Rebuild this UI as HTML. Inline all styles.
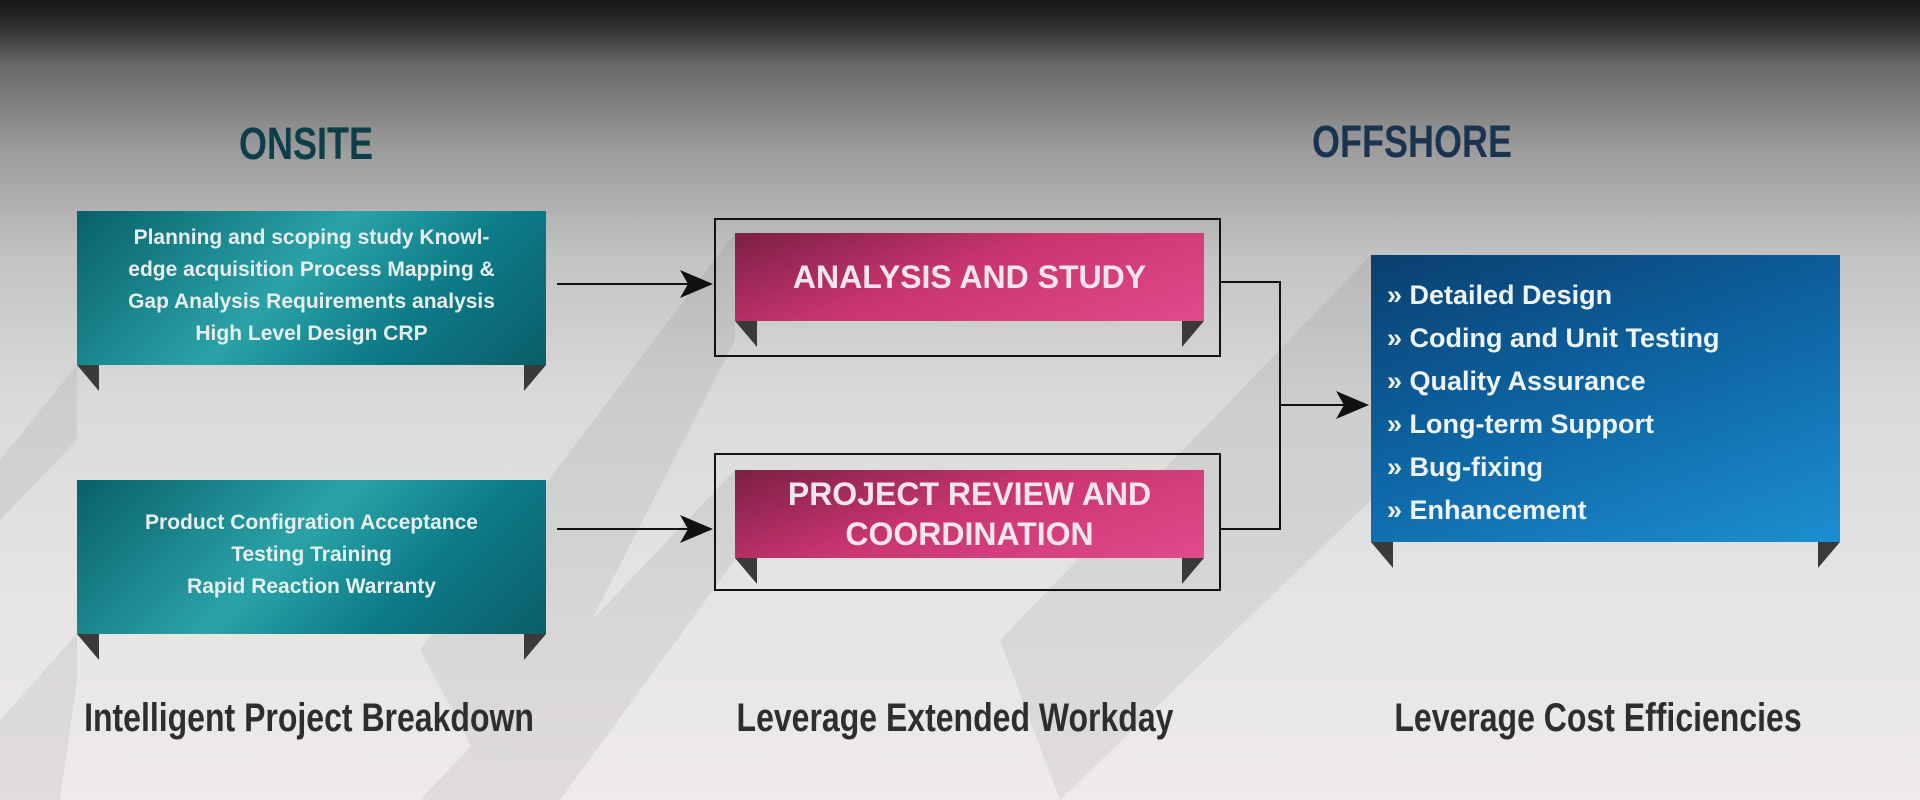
<!DOCTYPE html>
<html><head><meta charset="utf-8"><style>
html,body{margin:0;padding:0}
body{width:1920px;height:800px;position:relative;overflow:hidden;font-family:"Liberation Sans",sans-serif;
background:linear-gradient(180deg,#161616 0px,#2e2e2e 25px,#686868 65px,#9c9c9c 150px,#c4c4c4 260px,#dadada 400px,#e6e4e4 600px,#eeebea 800px);}
.abs{position:absolute}
.h{font-weight:bold;font-size:45px;transform:scaleX(.8);transform-origin:center;text-align:center;width:400px}
.teal{background:linear-gradient(135deg,#08606a 0%,#2aa3a8 45%,#0d7c88 70%,#0a5e6a 100%);color:#e8eeee;font-weight:bold;font-size:21px;line-height:32px;text-align:center;box-sizing:border-box}
.pink{background:linear-gradient(160deg,#7a1f45 0%,#c8356e 45%,#e24a8c 100%);color:#f2e6ec;font-weight:bold;font-size:32px;text-align:center;display:flex;align-items:center;justify-content:center;line-height:40px}
.blue{background:linear-gradient(160deg,#0a3f6e 0%,#0d62a0 45%,#1c8fd0 100%);color:#eef4f8;font-weight:bold;font-size:27px;box-sizing:border-box;padding-left:16px;padding-top:19px;line-height:43px}
.tl{position:absolute;width:0;height:0;border-top:26px solid #3a3a3a;border-left:22px solid transparent}
.tr{position:absolute;width:0;height:0;border-top:26px solid #3a3a3a;border-right:22px solid transparent}
.ob{position:absolute;border:2px solid #111;box-sizing:border-box}
.lab{position:absolute;font-weight:bold;font-size:40px;color:#2e2e2e;width:700px;text-align:center;transform:scaleX(.8);transform-origin:center}
</style></head><body>
<svg class="abs" style="left:0;top:0" width="1920" height="800">
<g fill="#000" opacity="0.06">
<polygon points="77,365 0,460 0,520 77,440"/>
<polygon points="77,634 0,720 0,800 60,800 77,680"/>
<polygon points="735,233 420,650 500,800 735,340"/>
<polygon points="735,470 420,800 560,800 735,560"/>
<polygon points="1371,255 1000,640 1060,800 1371,500"/>
</g>
</svg>
<div class="abs h" style="left:106px;top:118px;color:#0e3e48">ONSITE</div>
<div class="abs h" style="left:1212px;top:116px;color:#1a3450">OFFSHORE</div>

<div class="abs teal" style="left:77px;top:211px;width:469px;height:154px;padding-top:11px">Planning and scoping study Knowl-<br>edge acquisition Process Mapping &amp;<br>Gap Analysis Requirements analysis<br>High Level Design CRP</div>
<div class="tl" style="left:77px;top:365px"></div>
<div class="tr" style="left:524px;top:365px"></div>

<div class="abs teal" style="left:77px;top:480px;width:469px;height:154px;padding-top:27px">Product Configration Acceptance<br>Testing Training<br>Rapid Reaction Warranty</div>
<div class="tl" style="left:77px;top:634px"></div>
<div class="tr" style="left:524px;top:634px"></div>

<div class="ob" style="left:714px;top:218px;width:507px;height:139px"></div>
<div class="abs pink" style="left:735px;top:233px;width:469px;height:88px">ANALYSIS AND STUDY</div>
<div class="tl" style="left:735px;top:321px"></div>
<div class="tr" style="left:1182px;top:321px"></div>

<div class="ob" style="left:714px;top:453px;width:507px;height:138px"></div>
<div class="abs pink" style="left:735px;top:470px;width:469px;height:88px">PROJECT REVIEW AND<br>COORDINATION</div>
<div class="tl" style="left:735px;top:558px"></div>
<div class="tr" style="left:1182px;top:558px"></div>

<div class="abs blue" style="left:1371px;top:255px;width:469px;height:287px">» Detailed Design<br>» Coding and Unit Testing<br>» Quality Assurance<br>» Long-term Support<br>» Bug-fixing<br>» Enhancement</div>
<div class="tl" style="left:1371px;top:542px"></div>
<div class="tr" style="left:1818px;top:542px"></div>

<svg class="abs" style="left:0;top:0" width="1920" height="800">
<g stroke="#111" stroke-width="2" fill="none">
<line x1="557" y1="284" x2="690" y2="284"/>
<line x1="557" y1="529" x2="690" y2="529"/>
<polyline points="1221,282 1280,282 1280,529 1221,529"/>
<line x1="1280" y1="405" x2="1345" y2="405"/>
</g>
<g fill="#111">
<polygon points="713,284 680,270 688,284 680,298"/>
<polygon points="713,529 680,515 688,529 680,543"/>
<polygon points="1369,405 1336,391 1344,405 1336,419"/>
</g>
</svg>

<div class="lab" style="left:-41px;top:696px">Intelligent Project Breakdown</div>
<div class="lab" style="left:605px;top:696px">Leverage Extended Workday</div>
<div class="lab" style="left:1248px;top:696px">Leverage Cost Efficiencies</div>
</body></html>
